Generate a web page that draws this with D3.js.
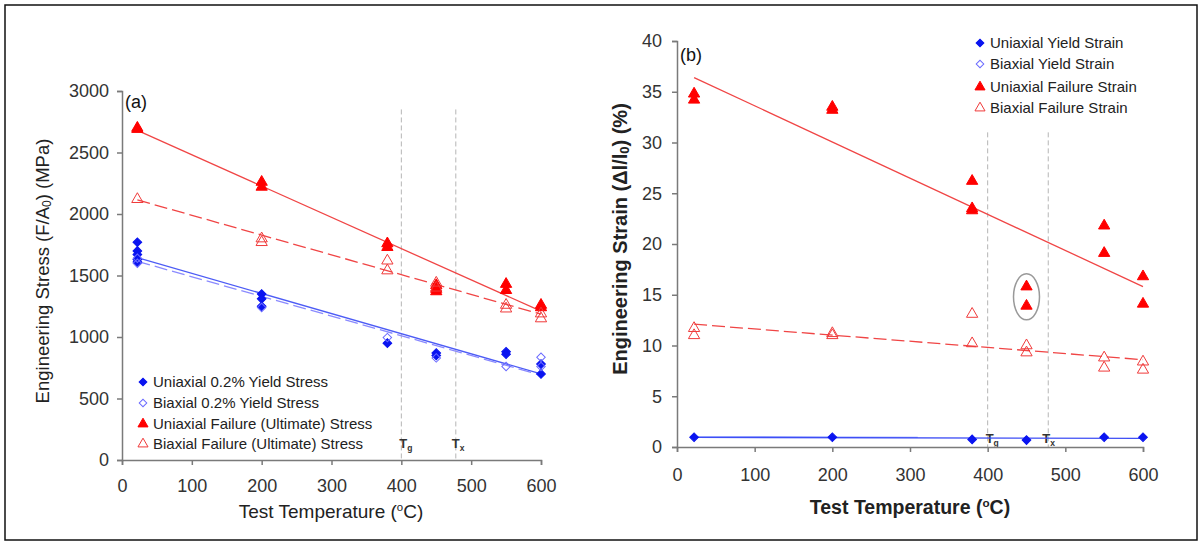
<!DOCTYPE html>
<head>
  <meta charset="utf-8">
  <script src="https://d3js.org/d3.v7.min.js"></script>
  <style>
    body {
      margin: 0;
      background: #fff;
      font-family: Arial, "Liberation Sans", sans-serif;
    }

    .axis path,
    .axis line {
      stroke: #7a7a7a;
      stroke-width: 1.5px;
    }

    .axis text {
      fill: #333;
      font-size: 18px;
      font-family: Arial, "Liberation Sans", sans-serif;
    }

    .legend text {
      fill: #222;
      font-size: 15px;
    }
  </style>
</head>

<body>
  <div id="vis"></div>
  <script>

    // ---------- data (a): engineering stress, MPa ----------
    var stressUniYield = [[22, 1770], [22, 1700], [22, 1670], [22, 1630], [22, 1610],
      [200, 1350], [200, 1310], [200, 1250], [380, 950], [450, 870], [450, 850],
      [550, 880], [550, 860], [600, 780], [600, 700]];
    var stressBiYield = [[22, 1640], [22, 1600], [200, 1240], [380, 995], [450, 830],
      [550, 760], [600, 835], [600, 760]];
    var stressUniFail = [[22, 2700], [22, 2690], [200, 2260], [200, 2220], [380, 1760],
      [380, 1730], [450, 1420], [450, 1390], [450, 1370], [550, 1430], [550, 1380],
      [600, 1260], [600, 1240]];
    var stressBiFail = [[22, 2120], [200, 1800], [200, 1770], [380, 1620], [380, 1540],
      [450, 1440], [450, 1400], [550, 1260], [550, 1230], [600, 1190], [600, 1150]];

    // fitted lines (end points)
    var stressFitUniFail = [[22, 2680], [600, 1210]];
    var stressFitBiFail = [[22, 2115], [600, 1185]];
    var stressFitUniYield = [[22, 1645], [600, 700]];
    var stressFitBiYield = [[22, 1615], [600, 690]];

    // ---------- data (b): engineering strain, % ----------
    var strainUniYield = [[22, 0.96], [200, 0.96], [380, 0.75], [450, 0.68], [550, 0.96], [600, 0.96]];
    var strainBiYield = [];
    var strainUniFail = [[22, 34.8], [22, 34.2], [200, 33.5], [200, 33.2], [380, 26.2],
      [380, 23.5], [380, 23.3], [450, 15.8], [450, 13.9], [550, 21.8], [550, 19.1],
      [600, 16.8], [600, 14.1]];
    var strainBiFail = [[22, 11.7], [22, 11.0], [200, 11.2], [200, 11.0], [380, 13.1],
      [380, 10.2], [450, 10.0], [450, 9.3], [550, 8.8], [550, 7.8], [600, 8.4], [600, 7.6]];

    var strainFitUniFail = [[22, 36.4], [600, 15.8]];
    var strainFitBiFail = [[22, 12.1], [600, 8.6]];
    var strainFitUniYield = [[22, 0.95], [600, 0.85]];
    var strainFitBiYield = [[22, 1.0], [310, 0.95]];

    var transitionTemps = [400, 478];
    var transitionNames = ["g", "x"];
    var xTicks = [0, 100, 200, 300, 400, 500, 600];
    var stressTicks = [0, 500, 1000, 1500, 2000, 2500, 3000];
    var strainTicks = [0, 5, 10, 15, 20, 25, 30, 35, 40];

    var legendA = ["Uniaxial 0.2% Yield Stress", "Biaxial 0.2% Yield Stress",
      "Uniaxial Failure (Ultimate) Stress", "Biaxial Failure (Ultimate) Stress"];
    var legendB = ["Uniaxial Yield Strain", "Biaxial Yield Strain",
      "Uniaxial Failure Strain", "Biaxial Failure Strain"];

    ////////// setup //////////
    var W = 1203, H = 544;

    var svg = d3.select("#vis")
      .append("svg")
      .attr("width", W)
      .attr("height", H);

    svg.append("rect")
      .attr("x", 5).attr("y", 5)
      .attr("width", 1192).attr("height", 535)
      .attr("fill", "none")
      .attr("stroke", "#111")
      .attr("stroke-width", 1.5);

    // marker styles: uni yield, bi yield, uni fail, bi fail
    var styles = [
      { sym: d3.symbolSquare, rot: 45, size: 38, fill: "#0a14f0", stroke: "#0a14f0" },
      { sym: d3.symbolSquare, rot: 45, size: 36, fill: "none", stroke: "#6b6bff" },
      { sym: d3.symbolTriangle, rot: 0, size: 55, fill: "#ff0000", stroke: "#ff0000" },
      { sym: d3.symbolTriangle, rot: 0, size: 55, fill: "none", stroke: "#f03a3a" }
    ];

    function drawPanel(p) {
      var x = d3.scaleLinear().domain([0, 600]).range(p.xRange);
      var y = d3.scaleLinear().domain(p.yDomain).range(p.yRange);
      var g = svg.append("g");

      // Tg / Tx guides
      transitionTemps.forEach(function (t, i) {
        g.append("line")
          .attr("x1", x(t)).attr("x2", x(t))
          .attr("y1", y(p.guideTop)).attr("y2", y(0))
          .attr("stroke", "#b5b5b5")
          .attr("stroke-width", 1)
          .attr("stroke-dasharray", "5,3");
        var lab = g.append("text")
          .attr("x", x(t) + p.tgOffset[i])
          .attr("y", p.tgY)
          .attr("font-size", 13)
          .attr("font-weight", "bold")
          .attr("fill", "#333")
          .text("T");
        lab.append("tspan")
          .attr("font-size", 8.5)
          .attr("dy", 3)
          .text(transitionNames[i]);
      });

      // axes
      g.append("g")
        .attr("class", "axis")
        .attr("transform", "translate(0," + y(0) + ")")
        .call(d3.axisBottom(x).tickValues(xTicks).tickFormat(d3.format("d"))
          .tickSize(5).tickSizeOuter(5).tickPadding(p.xPad));
      g.append("g")
        .attr("class", "axis")
        .attr("transform", "translate(" + x(0) + ",0)")
        .call(d3.axisLeft(y).tickValues(p.yTicks).tickFormat(d3.format("d"))
          .tickSize(5).tickSizeOuter(5).tickPadding(p.yPad));

      // fit lines
      var line = d3.line().x(function (d) { return x(d[0]); }).y(function (d) { return y(d[1]); });
      p.fits.forEach(function (f) {
        g.append("path")
          .datum(f.data)
          .attr("d", line)
          .attr("fill", "none")
          .attr("stroke", f.color)
          .attr("stroke-width", 1.3)
          .attr("stroke-dasharray", f.dash ? "13,5" : null);
      });

      // markers
      p.series.forEach(function (s, i) {
        var st = styles[i];
        g.append("g").selectAll("path")
          .data(s)
          .enter().append("path")
          .attr("transform", function (d) {
            return "translate(" + x(d[0]) + "," + y(d[1]) + ") rotate(" + st.rot + ")";
          })
          .attr("d", d3.symbol().type(st.sym).size(st.size))
          .attr("fill", st.fill)
          .attr("stroke", st.stroke)
          .attr("stroke-width", 1);
      });

      // panel letter
      g.append("text")
        .attr("x", x(0) + 3)
        .attr("y", p.letterY)
        .attr("font-size", 18)
        .attr("fill", "#111")
        .text(p.letter);

      // axis titles
      var xt = g.append("text")
        .attr("x", p.xTitle[0]).attr("y", p.xTitle[1])
        .attr("text-anchor", "middle")
        .attr("font-size", p.xTitleSize)
        .attr("font-weight", p.bold ? "bold" : "normal")
        .attr("fill", "#222")
        .text("Test Temperature (");
      xt.append("tspan").attr("font-size", p.xTitleSize * 0.6).attr("dy", -7).text("o");
      xt.append("tspan").attr("dy", 7).text("C)");

      var yt = g.append("text")
        .attr("transform", "translate(" + p.yTitle[0] + "," + p.yTitle[1] + ") rotate(-90)")
        .attr("text-anchor", "middle")
        .attr("font-size", p.yTitleSize)
        .attr("font-weight", p.bold ? "bold" : "normal")
        .attr("fill", "#222")
        .text(p.yLabel[0]);
      yt.append("tspan").attr("font-size", p.yTitleSize * 0.65).attr("dy", 2).text(p.yLabel[1]);
      yt.append("tspan").attr("dy", -2).text(p.yLabel[2]);

      // legend
      var lg = g.append("g").attr("class", "legend");
      p.legend.forEach(function (name, i) {
        var st = styles[i];
        var ly = p.legendY[i];
        lg.append("path")
          .attr("transform", "translate(" + p.legendX + "," + ly + ") rotate(" + st.rot + ")")
          .attr("d", d3.symbol().type(st.sym).size(st.size * 0.8))
          .attr("fill", st.fill)
          .attr("stroke", st.stroke);
        lg.append("text")
          .attr("x", p.legendX + 10)
          .attr("y", ly + 5)
          .text(name);
      });

      return { x: x, y: y, g: g };
    }

    drawPanel({
      xRange: [122, 541], yRange: [460, 91], yDomain: [0, 3000], yTicks: stressTicks,
      xPad: 14, yPad: 8, guideTop: 2850, tgOffset: [-2, -4], tgY: 448,
      letter: "(a)", letterY: 108, bold: false, xTitleSize: 19, yTitleSize: 18.5,
      xTitle: [331, 518], yTitle: [49, 271],
      yLabel: ["Engineering Stress (F/A", "0", ") (MPa)"],
      legend: legendA, legendX: 143, legendY: [382, 403, 424, 444],
      series: [stressUniYield, stressBiYield, stressUniFail, stressBiFail],
      fits: [
        { data: stressFitUniYield, color: "#4d5cf5", dash: false },
        { data: stressFitBiYield, color: "#8a8aff", dash: true },
        { data: stressFitUniFail, color: "#f04545", dash: false },
        { data: stressFitBiFail, color: "#f04545", dash: true }
      ]
    });

    var pb = drawPanel({
      xRange: [677, 1143], yRange: [447, 41], yDomain: [0, 40], yTicks: strainTicks,
      xPad: 16, yPad: 10, guideTop: 31, tgOffset: [-2, -6], tgY: 443,
      letter: "(b)", letterY: 61, bold: true, xTitleSize: 19.5, yTitleSize: 20,
      xTitle: [910, 514], yTitle: [627, 239],
      yLabel: ["Engineering Strain (\u0394l/l", "0", ") (%)"],
      legend: legendB, legendX: 980, legendY: [43, 64, 87, 108],
      series: [strainUniYield, strainBiYield, strainUniFail, strainBiFail],
      fits: [
        { data: strainFitBiYield, color: "#8fa0ff", dash: false },
        { data: strainFitUniYield, color: "#3e4ef5", dash: false },
        { data: strainFitUniFail, color: "#f04545", dash: false },
        { data: strainFitBiFail, color: "#f04545", dash: true }
      ]
    });

    // ellipse around the two outliers at 450 °C
    pb.g.append("ellipse")
      .attr("cx", pb.x(450))
      .attr("cy", pb.y(14.8))
      .attr("rx", 13)
      .attr("ry", 23)
      .attr("fill", "none")
      .attr("stroke", "#999")
      .attr("stroke-width", 1.5);

  </script>
</body>
